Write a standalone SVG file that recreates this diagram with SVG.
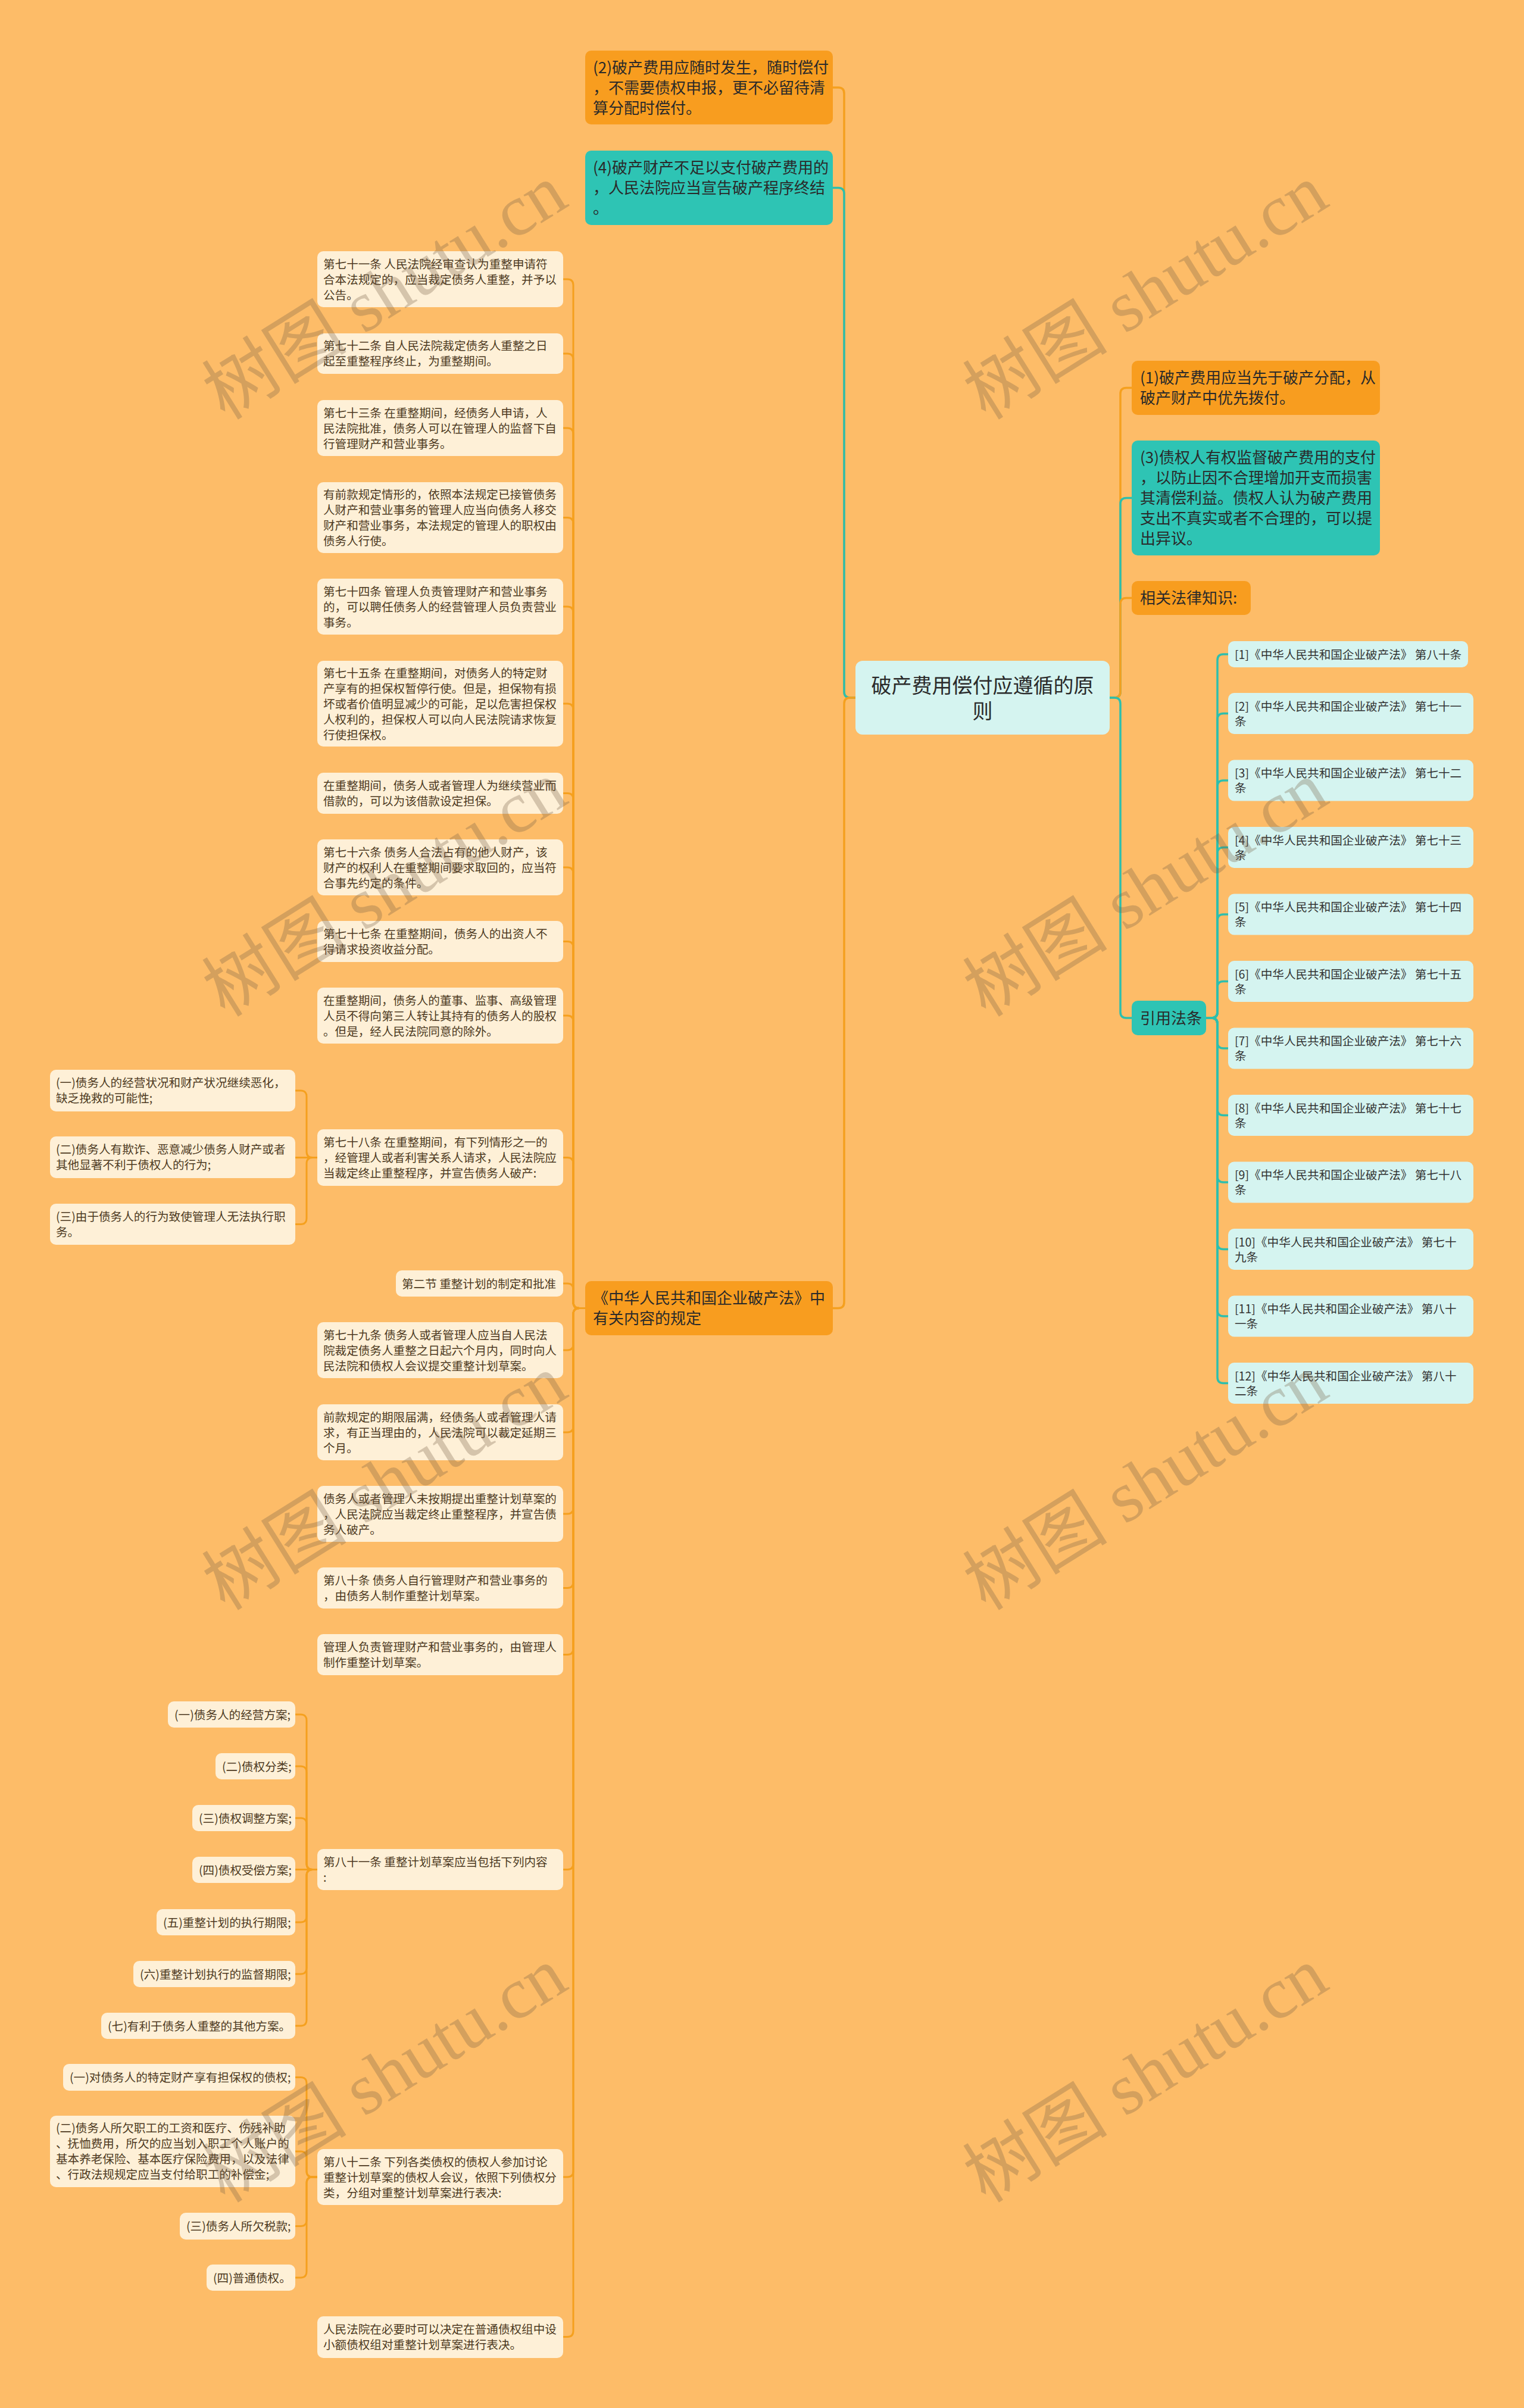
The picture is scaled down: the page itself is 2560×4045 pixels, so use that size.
<svg xmlns="http://www.w3.org/2000/svg" width="2560" height="4045" viewBox="0 0 2560 4045">
<style>
text{font-family:"Noto Sans CJK SC","Noto Sans",sans-serif}
.no{fill:#F89D1F}
.nt{fill:#2EC4B4}
.nl{fill:#FEF0D7}
.nc{fill:#D5F4F0}
.tm{font-size:26px;fill:#2a2a2a}
.tr{font-size:34px;fill:#2a2a2a}
.tl{font-size:19.6px;fill:#4d3a22}
.tc{font-size:19.6px;fill:#333333}
.co{fill:none;stroke:#F5A01E;stroke-width:3.5}
.ct{fill:none;stroke:#2DBFAD;stroke-width:3.5}
.cl{fill:none;stroke:#F5A01E;stroke-width:3}
.wm{font-family:"Liberation Serif","Noto Sans CJK SC",serif;font-size:122px;fill:#785F46;fill-opacity:0.3}
</style>
<rect x="0" y="0" width="2560" height="4045" fill="#FDBC68"/>

<g id="connectors">
<path class="co" d="M1437,1172H1428Q1418,1172 1418,1162V157Q1418,147 1408,147H1399"/>
<path class="ct" d="M1437,1172H1428Q1418,1172 1418,1162V325.5Q1418,315.5 1408,315.5H1399"/>
<path class="co" d="M1437,1172H1428Q1418,1172 1418,1182V2187.5Q1418,2197.5 1408,2197.5H1399"/>
<path class="co" d="M1864,1172H1872Q1882,1172 1882,1162V661.5Q1882,651.5 1892,651.5H1901"/>
<path class="ct" d="M1864,1172H1872Q1882,1172 1882,1162V846.5Q1882,836.5 1892,836.5H1901"/>
<path class="co" d="M1864,1172H1872Q1882,1172 1882,1162V1014.5Q1882,1004.5 1892,1004.5H1901"/>
<path class="ct" d="M1864,1172H1872Q1882,1172 1882,1182V1700Q1882,1710 1892,1710H1901"/>
<path class="ct" d="M2026,1710H2035Q2045,1710 2045,1700V1109Q2045,1099 2055,1099H2063"/>
<path class="ct" d="M2026,1710H2035Q2045,1710 2045,1700V1208.5Q2045,1198.5 2055,1198.5H2063"/>
<path class="ct" d="M2026,1710H2035Q2045,1710 2045,1700V1321Q2045,1311 2055,1311H2063"/>
<path class="ct" d="M2026,1710H2035Q2045,1710 2045,1700V1433.5Q2045,1423.5 2055,1423.5H2063"/>
<path class="ct" d="M2026,1710H2035Q2045,1710 2045,1700V1546Q2045,1536 2055,1536H2063"/>
<path class="ct" d="M2026,1710H2035Q2045,1710 2045,1700V1658.5Q2045,1648.5 2055,1648.5H2063"/>
<path class="ct" d="M2026,1710H2035Q2045,1710 2045,1720V1751Q2045,1761 2055,1761H2063"/>
<path class="ct" d="M2026,1710H2035Q2045,1710 2045,1720V1863.5Q2045,1873.5 2055,1873.5H2063"/>
<path class="ct" d="M2026,1710H2035Q2045,1710 2045,1720V1976Q2045,1986 2055,1986H2063"/>
<path class="ct" d="M2026,1710H2035Q2045,1710 2045,1720V2088.5Q2045,2098.5 2055,2098.5H2063"/>
<path class="ct" d="M2026,1710H2035Q2045,1710 2045,1720V2201Q2045,2211 2055,2211H2063"/>
<path class="ct" d="M2026,1710H2035Q2045,1710 2045,1720V2313.5Q2045,2323.5 2055,2323.5H2063"/>
<path class="cl" d="M983,2197.5H973Q963,2197.5 963,2187.5V479Q963,469 953,469H946"/>
<path class="cl" d="M983,2197.5H973Q963,2197.5 963,2187.5V604Q963,594 953,594H946"/>
<path class="cl" d="M983,2197.5H973Q963,2197.5 963,2187.5V729Q963,719 953,719H946"/>
<path class="cl" d="M983,2197.5H973Q963,2197.5 963,2187.5V879.5Q963,869.5 953,869.5H946"/>
<path class="cl" d="M983,2197.5H973Q963,2197.5 963,2187.5V1029Q963,1019 953,1019H946"/>
<path class="cl" d="M983,2197.5H973Q963,2197.5 963,2187.5V1192Q963,1182 953,1182H946"/>
<path class="cl" d="M983,2197.5H973Q963,2197.5 963,2187.5V1342.5Q963,1332.5 953,1332.5H946"/>
<path class="cl" d="M983,2197.5H973Q963,2197.5 963,2187.5V1467Q963,1457 953,1457H946"/>
<path class="cl" d="M983,2197.5H973Q963,2197.5 963,2187.5V1591.5Q963,1581.5 953,1581.5H946"/>
<path class="cl" d="M983,2197.5H973Q963,2197.5 963,2187.5V1716Q963,1706 953,1706H946"/>
<path class="cl" d="M983,2197.5H973Q963,2197.5 963,2187.5V1954.5Q963,1944.5 953,1944.5H946"/>
<path class="cl" d="M983,2197.5H973Q963,2197.5 963,2187.5V2166Q963,2156 953,2156H946"/>
<path class="cl" d="M983,2197.5H973Q963,2197.5 963,2207.5V2258Q963,2268 953,2268H946"/>
<path class="cl" d="M983,2197.5H973Q963,2197.5 963,2207.5V2396Q963,2406 953,2406H946"/>
<path class="cl" d="M983,2197.5H973Q963,2197.5 963,2207.5V2533Q963,2543 953,2543H946"/>
<path class="cl" d="M983,2197.5H973Q963,2197.5 963,2207.5V2657.5Q963,2667.5 953,2667.5H946"/>
<path class="cl" d="M983,2197.5H973Q963,2197.5 963,2207.5V2769.5Q963,2779.5 953,2779.5H946"/>
<path class="cl" d="M983,2197.5H973Q963,2197.5 963,2207.5V3130.5Q963,3140.5 953,3140.5H946"/>
<path class="cl" d="M983,2197.5H973Q963,2197.5 963,2207.5V3647Q963,3657 953,3657H946"/>
<path class="cl" d="M983,2197.5H973Q963,2197.5 963,2207.5V3915.5Q963,3925.5 953,3925.5H946"/>
<path class="cl" d="M534,1944.5H525Q515,1944.5 515,1934.5V1842Q515,1832 505,1832H496"/>
<path class="cl" d="M534,1944.5H496"/>
<path class="cl" d="M534,1944.5H525Q515,1944.5 515,1954.5V2046.5Q515,2056.5 505,2056.5H496"/>
<path class="cl" d="M534,3140.5H525Q515,3140.5 515,3130.5V2890Q515,2880 505,2880H496"/>
<path class="cl" d="M534,3140.5H525Q515,3140.5 515,3130.5V2977Q515,2967 505,2967H496"/>
<path class="cl" d="M534,3140.5H525Q515,3140.5 515,3130.5V3064Q515,3054 505,3054H496"/>
<path class="cl" d="M534,3140.5H496"/>
<path class="cl" d="M534,3140.5H525Q515,3140.5 515,3150.5V3219Q515,3229 505,3229H496"/>
<path class="cl" d="M534,3140.5H525Q515,3140.5 515,3150.5V3306Q515,3316 505,3316H496"/>
<path class="cl" d="M534,3140.5H525Q515,3140.5 515,3150.5V3393Q515,3403 505,3403H496"/>
<path class="cl" d="M534,3657H525Q515,3657 515,3647V3499.5Q515,3489.5 505,3489.5H496"/>
<path class="cl" d="M534,3657H525Q515,3657 515,3647V3624Q515,3614 505,3614H496"/>
<path class="cl" d="M534,3657H525Q515,3657 515,3667V3729.5Q515,3739.5 505,3739.5H496"/>
<path class="cl" d="M534,3657H525Q515,3657 515,3667V3816Q515,3826 505,3826H496"/>
</g>

<g id="root"><rect class="nc" x="1437" y="1110" width="427" height="124" rx="12"/>
<text class="tr" text-anchor="middle"><tspan x="1650.5" y="1164">破产费用偿付应遵循的原</tspan><tspan x="1650.5" y="1207">则</tspan></text></g>

<g id="n2"><rect class="no" x="983" y="85" width="416" height="124" rx="10"/>
<text class="tm"><tspan x="996" y="123">(2)破产费用应随时发生，随时偿付</tspan><tspan x="996" y="157">，不需要债权申报，更不必留待清</tspan><tspan x="996" y="191">算分配时偿付。</tspan></text></g>
<g id="n4"><rect class="nt" x="983" y="253" width="416" height="125" rx="10"/>
<text class="tm"><tspan x="996" y="291">(4)破产财产不足以支付破产费用的</tspan><tspan x="996" y="325">，人民法院应当宣告破产程序终结</tspan><tspan x="996" y="359">。</tspan></text></g>
<g id="nlaw"><rect class="no" x="983" y="2152" width="416" height="91" rx="10"/>
<text class="tm"><tspan x="996" y="2190">《中华人民共和国企业破产法》中</tspan><tspan x="996" y="2224">有关内容的规定</tspan></text></g>

<g id="n1"><rect class="no" x="1901" y="606" width="417" height="91" rx="10"/>
<text class="tm"><tspan x="1915" y="644">(1)破产费用应当先于破产分配，从</tspan><tspan x="1915" y="678">破产财产中优先拨付。</tspan></text></g>
<g id="n3"><rect class="nt" x="1901" y="740" width="417" height="193" rx="10"/>
<text class="tm"><tspan x="1915" y="778">(3)债权人有权监督破产费用的支付</tspan><tspan x="1915" y="812">，以防止因不合理增加开支而损害</tspan><tspan x="1915" y="846">其清偿利益。债权人认为破产费用</tspan><tspan x="1915" y="880">支出不真实或者不合理的，可以提</tspan><tspan x="1915" y="914">出异议。</tspan></text></g>
<g id="nrel"><rect class="no" x="1901" y="976" width="200" height="57" rx="10"/>
<text class="tm" x="1915" y="1014">相关法律知识:</text></g>
<g id="ncite"><rect class="nt" x="1901" y="1681" width="125" height="58" rx="10"/>
<text class="tm" x="1915" y="1720">引用法条</text></g>

<g id="c1"><rect class="nc" x="2063" y="1077" width="403" height="44" rx="10"/><text class="tc" x="2074" y="1106.5">[1]《中华人民共和国企业破产法》 第八十条</text></g>
<g id="c2"><rect class="nc" x="2063" y="1164" width="412" height="69" rx="10"/><text class="tc"><tspan x="2074" y="1193.5">[2]《中华人民共和国企业破产法》 第七十一</tspan><tspan x="2074" y="1218.5">条</tspan></text></g>
<g id="c3"><rect class="nc" x="2063" y="1276.5" width="412" height="69" rx="10"/><text class="tc"><tspan x="2074" y="1306">[3]《中华人民共和国企业破产法》 第七十二</tspan><tspan x="2074" y="1331">条</tspan></text></g>
<g id="c4"><rect class="nc" x="2063" y="1389" width="412" height="69" rx="10"/><text class="tc"><tspan x="2074" y="1418.5">[4]《中华人民共和国企业破产法》 第七十三</tspan><tspan x="2074" y="1443.5">条</tspan></text></g>
<g id="c5"><rect class="nc" x="2063" y="1501.5" width="412" height="69" rx="10"/><text class="tc"><tspan x="2074" y="1531">[5]《中华人民共和国企业破产法》 第七十四</tspan><tspan x="2074" y="1556">条</tspan></text></g>
<g id="c6"><rect class="nc" x="2063" y="1614" width="412" height="69" rx="10"/><text class="tc"><tspan x="2074" y="1643.5">[6]《中华人民共和国企业破产法》 第七十五</tspan><tspan x="2074" y="1668.5">条</tspan></text></g>
<g id="c7"><rect class="nc" x="2063" y="1726.5" width="412" height="69" rx="10"/><text class="tc"><tspan x="2074" y="1756">[7]《中华人民共和国企业破产法》 第七十六</tspan><tspan x="2074" y="1781">条</tspan></text></g>
<g id="c8"><rect class="nc" x="2063" y="1839" width="412" height="69" rx="10"/><text class="tc"><tspan x="2074" y="1868.5">[8]《中华人民共和国企业破产法》 第七十七</tspan><tspan x="2074" y="1893.5">条</tspan></text></g>
<g id="c9"><rect class="nc" x="2063" y="1951.5" width="412" height="69" rx="10"/><text class="tc"><tspan x="2074" y="1981">[9]《中华人民共和国企业破产法》 第七十八</tspan><tspan x="2074" y="2006">条</tspan></text></g>
<g id="c10"><rect class="nc" x="2063" y="2064" width="412" height="69" rx="10"/><text class="tc"><tspan x="2074" y="2093.5">[10]《中华人民共和国企业破产法》 第七十</tspan><tspan x="2074" y="2118.5">九条</tspan></text></g>
<g id="c11"><rect class="nc" x="2063" y="2176.5" width="412" height="69" rx="10"/><text class="tc"><tspan x="2074" y="2206">[11]《中华人民共和国企业破产法》 第八十</tspan><tspan x="2074" y="2231">一条</tspan></text></g>
<g id="c12"><rect class="nc" x="2063" y="2289" width="412" height="69" rx="10"/><text class="tc"><tspan x="2074" y="2318.5">[12]《中华人民共和国企业破产法》 第八十</tspan><tspan x="2074" y="2343.5">二条</tspan></text></g>

<g id="l1"><rect class="nl" x="533" y="422" width="413" height="94" rx="10"/><text class="tl"><tspan x="543" y="450.5">第七十一条 人民法院经审查认为重整申请符</tspan><tspan x="543" y="476.5">合本法规定的，应当裁定债务人重整，并予以</tspan><tspan x="543" y="502.5">公告。</tspan></text></g>
<g id="l2"><rect class="nl" x="533" y="560" width="413" height="68" rx="10"/><text class="tl"><tspan x="543" y="588">第七十二条 自人民法院裁定债务人重整之日</tspan><tspan x="543" y="614">起至重整程序终止，为重整期间。</tspan></text></g>
<g id="l3"><rect class="nl" x="533" y="672" width="413" height="94" rx="10"/><text class="tl"><tspan x="543" y="700.5">第七十三条 在重整期间，经债务人申请，人</tspan><tspan x="543" y="726.5">民法院批准，债务人可以在管理人的监督下自</tspan><tspan x="543" y="752.5">行管理财产和营业事务。</tspan></text></g>
<g id="l4"><rect class="nl" x="533" y="810" width="413" height="119" rx="10"/><text class="tl"><tspan x="543" y="838">有前款规定情形的，依照本法规定已接管债务</tspan><tspan x="543" y="864">人财产和营业事务的管理人应当向债务人移交</tspan><tspan x="543" y="890">财产和营业事务，本法规定的管理人的职权由</tspan><tspan x="543" y="916">债务人行使。</tspan></text></g>
<g id="l5"><rect class="nl" x="533" y="972" width="413" height="94" rx="10"/><text class="tl"><tspan x="543" y="1000.5">第七十四条 管理人负责管理财产和营业事务</tspan><tspan x="543" y="1026.5">的，可以聘任债务人的经营管理人员负责营业</tspan><tspan x="543" y="1052.5">事务。</tspan></text></g>
<g id="l6"><rect class="nl" x="533" y="1110" width="413" height="144" rx="10"/><text class="tl"><tspan x="543" y="1137.5">第七十五条 在重整期间，对债务人的特定财</tspan><tspan x="543" y="1163.5">产享有的担保权暂停行使。但是，担保物有损</tspan><tspan x="543" y="1189.5">坏或者价值明显减少的可能，足以危害担保权</tspan><tspan x="543" y="1215.5">人权利的，担保权人可以向人民法院请求恢复</tspan><tspan x="543" y="1241.5">行使担保权。</tspan></text></g>
<g id="l7"><rect class="nl" x="533" y="1298" width="413" height="69" rx="10"/><text class="tl"><tspan x="543" y="1327">在重整期间，债务人或者管理人为继续营业而</tspan><tspan x="543" y="1353">借款的，可以为该借款设定担保。</tspan></text></g>
<g id="l8"><rect class="nl" x="533" y="1410" width="413" height="94" rx="10"/><text class="tl"><tspan x="543" y="1438.5">第七十六条 债务人合法占有的他人财产，该</tspan><tspan x="543" y="1464.5">财产的权利人在重整期间要求取回的，应当符</tspan><tspan x="543" y="1490.5">合事先约定的条件。</tspan></text></g>
<g id="l9"><rect class="nl" x="533" y="1547" width="413" height="69" rx="10"/><text class="tl"><tspan x="543" y="1576">第七十七条 在重整期间，债务人的出资人不</tspan><tspan x="543" y="1602">得请求投资收益分配。</tspan></text></g>
<g id="l10"><rect class="nl" x="533" y="1659" width="413" height="94" rx="10"/><text class="tl"><tspan x="543" y="1687.5">在重整期间，债务人的董事、监事、高级管理</tspan><tspan x="543" y="1713.5">人员不得向第三人转让其持有的债务人的股权</tspan><tspan x="543" y="1739.5">。但是，经人民法院同意的除外。</tspan></text></g>
<g id="l11"><rect class="nl" x="533" y="1897" width="413" height="95" rx="10"/><text class="tl"><tspan x="543" y="1926">第七十八条 在重整期间，有下列情形之一的</tspan><tspan x="543" y="1952">，经管理人或者利害关系人请求，人民法院应</tspan><tspan x="543" y="1978">当裁定终止重整程序，并宣告债务人破产:</tspan></text></g>
<g id="l11a"><rect class="nl" x="84" y="1797" width="412" height="70" rx="10"/><text class="tl"><tspan x="94" y="1826">(一)债务人的经营状况和财产状况继续恶化，</tspan><tspan x="94" y="1852">缺乏挽救的可能性;</tspan></text></g>
<g id="l11b"><rect class="nl" x="84" y="1909" width="412" height="70" rx="10"/><text class="tl"><tspan x="94" y="1938">(二)债务人有欺诈、恶意减少债务人财产或者</tspan><tspan x="94" y="1964">其他显著不利于债权人的行为;</tspan></text></g>
<g id="l11c"><rect class="nl" x="84" y="2022" width="412" height="69" rx="10"/><text class="tl"><tspan x="94" y="2051">(三)由于债务人的行为致使管理人无法执行职</tspan><tspan x="94" y="2077">务。</tspan></text></g>
<g id="l12"><rect class="nl" x="665" y="2134" width="281" height="44" rx="10"/><text class="tl" x="675" y="2163.5">第二节 重整计划的制定和批准</text></g>
<g id="l13"><rect class="nl" x="533" y="2221" width="413" height="94" rx="10"/><text class="tl"><tspan x="543" y="2249.5">第七十九条 债务人或者管理人应当自人民法</tspan><tspan x="543" y="2275.5">院裁定债务人重整之日起六个月内，同时向人</tspan><tspan x="543" y="2301.5">民法院和债权人会议提交重整计划草案。</tspan></text></g>
<g id="l14"><rect class="nl" x="533" y="2359" width="413" height="94" rx="10"/><text class="tl"><tspan x="543" y="2387.5">前款规定的期限届满，经债务人或者管理人请</tspan><tspan x="543" y="2413.5">求，有正当理由的，人民法院可以裁定延期三</tspan><tspan x="543" y="2439.5">个月。</tspan></text></g>
<g id="l15"><rect class="nl" x="533" y="2496" width="413" height="94" rx="10"/><text class="tl"><tspan x="543" y="2524.5">债务人或者管理人未按期提出重整计划草案的</tspan><tspan x="543" y="2550.5">，人民法院应当裁定终止重整程序，并宣告债</tspan><tspan x="543" y="2576.5">务人破产。</tspan></text></g>
<g id="l16"><rect class="nl" x="533" y="2633" width="413" height="69" rx="10"/><text class="tl"><tspan x="543" y="2662">第八十条 债务人自行管理财产和营业事务的</tspan><tspan x="543" y="2688">，由债务人制作重整计划草案。</tspan></text></g>
<g id="l17"><rect class="nl" x="533" y="2745" width="413" height="69" rx="10"/><text class="tl"><tspan x="543" y="2774">管理人负责管理财产和营业事务的，由管理人</tspan><tspan x="543" y="2800">制作重整计划草案。</tspan></text></g>
<g id="l18"><rect class="nl" x="533" y="3106" width="413" height="69" rx="10"/><text class="tl"><tspan x="543" y="3135">第八十一条 重整计划草案应当包括下列内容</tspan><tspan x="543" y="3161">:</tspan></text></g>
<g id="l18a"><rect class="nl" x="282" y="2858" width="214" height="44" rx="10"/><text class="tl" x="293" y="2887.5">(一)债务人的经营方案;</text></g>
<g id="l18b"><rect class="nl" x="362" y="2945" width="134" height="44" rx="10"/><text class="tl" x="373" y="2974.5">(二)债权分类;</text></g>
<g id="l18c"><rect class="nl" x="323" y="3032" width="173" height="44" rx="10"/><text class="tl" x="334" y="3061.5">(三)债权调整方案;</text></g>
<g id="l18d"><rect class="nl" x="323" y="3119" width="173" height="44" rx="10"/><text class="tl" x="334" y="3148.5">(四)债权受偿方案;</text></g>
<g id="l18e"><rect class="nl" x="263" y="3207" width="233" height="44" rx="10"/><text class="tl" x="274" y="3236.5">(五)重整计划的执行期限;</text></g>
<g id="l18f"><rect class="nl" x="224" y="3294" width="272" height="44" rx="10"/><text class="tl" x="235" y="3323.5">(六)重整计划执行的监督期限;</text></g>
<g id="l18g"><rect class="nl" x="170" y="3381" width="326" height="44" rx="10"/><text class="tl" x="181" y="3410.5">(七)有利于债务人重整的其他方案。</text></g>
<g id="l19"><rect class="nl" x="533" y="3610" width="413" height="94" rx="10"/><text class="tl"><tspan x="543" y="3638.5">第八十二条 下列各类债权的债权人参加讨论</tspan><tspan x="543" y="3664.5">重整计划草案的债权人会议，依照下列债权分</tspan><tspan x="543" y="3690.5">类，分组对重整计划草案进行表决:</tspan></text></g>
<g id="l19a"><rect class="nl" x="106" y="3467" width="390" height="45" rx="10"/><text class="tl" x="117" y="3496.5">(一)对债务人的特定财产享有担保权的债权;</text></g>
<g id="l19b"><rect class="nl" x="84" y="3554" width="412" height="120" rx="10"/><text class="tl"><tspan x="94" y="3582">(二)债务人所欠职工的工资和医疗、伤残补助</tspan><tspan x="94" y="3608">、抚恤费用，所欠的应当划入职工个人账户的</tspan><tspan x="94" y="3634">基本养老保险、基本医疗保险费用，以及法律</tspan><tspan x="94" y="3660">、行政法规规定应当支付给职工的补偿金;</tspan></text></g>
<g id="l19c"><rect class="nl" x="302" y="3717" width="194" height="45" rx="10"/><text class="tl" x="313" y="3746.5">(三)债务人所欠税款;</text></g>
<g id="l19d"><rect class="nl" x="347" y="3804" width="149" height="44" rx="10"/><text class="tl" x="358" y="3833.5">(四)普通债权。</text></g>
<g id="l20"><rect class="nl" x="533" y="3891" width="413" height="70" rx="10"/><text class="tl"><tspan x="543" y="3920">人民法院在必要时可以决定在普通债权组中设</tspan><tspan x="543" y="3946">小额债权组对重整计划草案进行表决。</tspan></text></g>

<g id="watermarks">
<text class="wm" transform="translate(378,707) rotate(-32)">树图 shutu.cn</text>
<text class="wm" transform="translate(1656,707) rotate(-32)">树图 shutu.cn</text>
<text class="wm" transform="translate(378,1710) rotate(-32)">树图 shutu.cn</text>
<text class="wm" transform="translate(1656,1710) rotate(-32)">树图 shutu.cn</text>
<text class="wm" transform="translate(378,2707) rotate(-32)">树图 shutu.cn</text>
<text class="wm" transform="translate(1656,2707) rotate(-32)">树图 shutu.cn</text>
<text class="wm" transform="translate(378,3702) rotate(-32)">树图 shutu.cn</text>
<text class="wm" transform="translate(1656,3702) rotate(-32)">树图 shutu.cn</text>
</g>
</svg>
